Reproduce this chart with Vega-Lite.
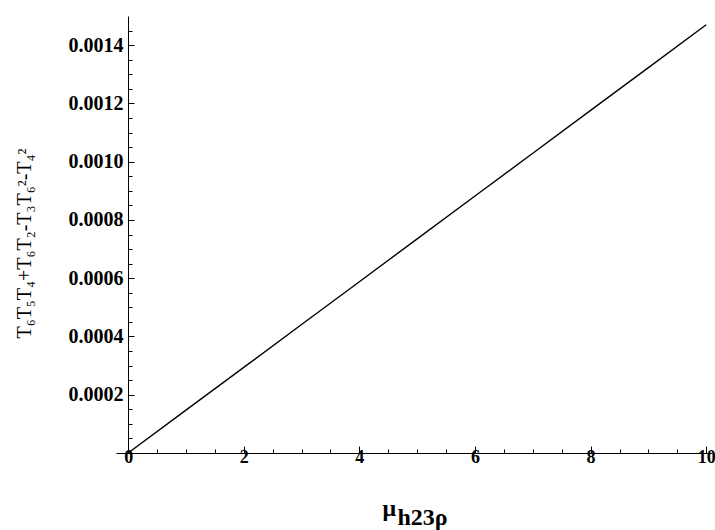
{
  "$schema": "https://vega.github.io/schema/vega-lite/v6.json",
  "width": 596,
  "height": 437,
  "autosize": {"type": "none"},
  "padding": {"left": 116, "top": 16, "right": 3, "bottom": 77},
  "background": "white",
  "config": {
    "view": {"stroke": null},
    "axis": {
      "grid": false,
      "domainColor": "black",
      "domainWidth": 1,
      "tickColor": "black",
      "tickWidth": 1,
      "labelColor": "black",
      "titleColor": "black",
      "labelFont": "Liberation Serif",
      "titleFont": "Liberation Serif",
      "labelFontSize": 20,
      "labelFontWeight": "bold"
    }
  },
  "data": {
    "values": [
      {"mu": 0, "value": 0},
      {"mu": 1, "value": 0.000147},
      {"mu": 2, "value": 0.000294},
      {"mu": 3, "value": 0.000441},
      {"mu": 4, "value": 0.000588},
      {"mu": 5, "value": 0.000735},
      {"mu": 6, "value": 0.000882},
      {"mu": 7, "value": 0.001029},
      {"mu": 8, "value": 0.001176},
      {"mu": 9, "value": 0.001323},
      {"mu": 10, "value": 0.00147}
    ]
  },
  "layer": [
    {
      "mark": {"type": "line", "color": "black", "strokeWidth": 1.4},
      "encoding": {
        "x": {
          "field": "mu",
          "type": "quantitative",
          "scale": {"domain": [-0.21, 10.1], "nice": false, "zero": false},
          "axis": {
            "orient": "bottom",
            "values": [0, 2, 4, 6, 8, 10],
            "format": "d",
            "tickSize": -7,
            "labelPadding": 2,
            "labelFontSize": 18,
            "title": "μ",
            "titleFontSize": 24,
            "titleFontWeight": "bold",
            "titleAlign": "left",
            "titleBaseline": "alphabetic",
            "titleX": 266,
            "titleY": 62
          }
        },
        "y": {
          "field": "value",
          "type": "quantitative",
          "scale": {"domain": [0, 0.0015], "nice": false},
          "axis": {
            "orient": "left",
            "offset": -12,
            "values": [0.0002, 0.0004, 0.0006, 0.0008, 0.001, 0.0012, 0.0014],
            "format": ".4f",
            "tickSize": -6,
            "labelPadding": 11,
            "title": "T₆T₅T₄+T₆T₂-T₃T₆²-T₄²",
            "titleFontSize": 20,
            "titleFontWeight": "normal",
            "titleAngle": 270,
            "titleAlign": "center",
            "titleBaseline": "alphabetic",
            "titleX": -98,
            "titleY": 227
          }
        }
      }
    },
    {
      "mark": {"type": "line", "opacity": 0},
      "encoding": {
        "x": {
          "field": "mu",
          "type": "quantitative",
          "axis": {
            "orient": "bottom",
            "values": [0.5, 1, 1.5, 2.5, 3, 3.5, 4.5, 5, 5.5, 6.5, 7, 7.5, 8.5, 9, 9.5],
            "tickSize": -4,
            "labels": false,
            "domain": false,
            "title": "h23ρ",
            "titleFontSize": 24,
            "titleFontWeight": "bold",
            "titleAlign": "left",
            "titleBaseline": "alphabetic",
            "titleX": 281,
            "titleY": 71
          }
        },
        "y": {
          "field": "value",
          "type": "quantitative",
          "axis": {
            "orient": "left",
            "offset": -12,
            "values": [0.00005, 0.0001, 0.00015, 0.00025, 0.0003, 0.00035, 0.00045, 0.0005, 0.00055, 0.00065, 0.0007, 0.00075, 0.00085, 0.0009, 0.00095, 0.00105, 0.0011, 0.00115, 0.00125, 0.0013, 0.00135, 0.00145],
            "tickSize": -4,
            "labels": false,
            "domain": false,
            "title": null
          }
        }
      }
    }
  ],
  "resolve": {"axis": {"x": "independent", "y": "independent"}}
}
